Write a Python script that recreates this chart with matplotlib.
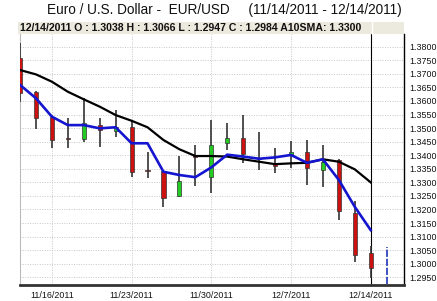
import matplotlib
matplotlib.use("Agg")
import matplotlib.pyplot as plt
from matplotlib.patches import Rectangle
import numpy as np

dates = ["11/14", "11/15", "11/16", "11/17", "11/18", "11/21", "11/22", "11/23", "11/24", "11/25",
         "11/28", "11/29", "11/30", "12/1", "12/2", "12/5", "12/6", "12/7", "12/8", "12/9",
         "12/12", "12/13", "12/14"]
opens = [1.3757, 1.3634, 1.3542, 1.3462, 1.3459, 1.3511, 1.3491, 1.3505, 1.3344, 1.3342,
         1.3250, 1.3400, 1.3319, 1.3446, 1.3462, 1.3390, 1.3368, 1.3401, 1.3411, 1.3345,
         1.3382, 1.3188, 1.3038]
highs = [1.3813, 1.3637, 1.3548, 1.3536, 1.3610, 1.3536, 1.3567, 1.3530, 1.3411, 1.3345,
         1.3398, 1.3438, 1.3530, 1.3520, 1.3548, 1.3484, 1.3425, 1.3452, 1.3456, 1.3438,
         1.3385, 1.3232, 1.3066]
lows = [1.3597, 1.3496, 1.3428, 1.3425, 1.3448, 1.3431, 1.3468, 1.3321, 1.3315, 1.3210,
        1.3247, 1.3287, 1.3260, 1.3419, 1.3370, 1.3345, 1.3333, 1.3352, 1.3290, 1.3284,
        1.3161, 1.3008, 1.2947]
closes = [1.3628, 1.3536, 1.3456, 1.3459, 1.3518, 1.3493, 1.3505, 1.3339, 1.3340, 1.3241,
          1.3306, 1.3395, 1.3438, 1.3462, 1.3405, 1.3385, 1.3362, 1.3413, 1.3352, 1.3376,
          1.3194, 1.3032, 1.2984]
sma10 = [1.3714, 1.3698, 1.3671, 1.3634, 1.3606, 1.3579, 1.3548, 1.3527, 1.3503, 1.3456,
         1.3422, 1.3397, 1.3397, 1.3395, 1.3385, 1.3376, 1.3367, 1.3370, 1.3372, 1.3385,
         1.3376, 1.3348, 1.3300]
blue_avg = [1.3659, 1.3610, 1.3542, 1.3511, 1.3511, 1.3499, 1.3503, 1.3444, 1.3444, 1.3339,
            1.3327, 1.3319, 1.3355, 1.3402, 1.3395, 1.3387, 1.3392, 1.3401, 1.3372, 1.3385,
            1.3309, 1.3210, 1.3124]
yticks = [1.2950 + 0.005 * k for k in range(18)]
xtick_idx = [2, 7, 12, 17, 22]
xtick_labels = ["11/16/2011", "11/23/2011", "11/30/2011", "12/7/2011", "12/14/2011"]
title = "Euro / U.S. Dollar -  EUR/USD     (11/14/2011 - 12/14/2011)"
header = "12/14/2011 O : 1.3038 H : 1.3066 L : 1.2947 C : 1.2984 A10SMA: 1.3300"

plt.rcParams['font.family'] = ['Liberation Sans', 'DejaVu Sans']
W, H = 437, 301
fig = plt.figure(figsize=(W / 100, H / 100), dpi=100)
L, R, T, B = 20, 404, 34, 285
ax = fig.add_axes([L / W, 1 - B / H, (R - L) / W, (B - T) / H])

x = np.arange(len(dates))
bw = 0.26
for i in x:
    up = closes[i] >= opens[i]
    col = '#22cc22' if up else '#cc1111'
    ax.vlines(i, lows[i], highs[i], color='#333333', lw=1.2, zorder=3)
    lo, hi = min(opens[i], closes[i]), max(opens[i], closes[i])
    h = max(hi - lo, 0.00015)
    ax.add_patch(Rectangle((i - bw / 2, lo), bw, h, facecolor=col,
                           edgecolor='#333333', lw=0.5, zorder=4))

ax.plot(x, sma10, color='black', lw=1.6, zorder=5)
ax.plot(x, blue_avg, color='#1515d0', lw=1.9, zorder=6)

# current price marker (dashed blue) after last bar
ax.vlines(len(dates), 1.2925, 1.3060, color='#3344bb', lw=1.3, linestyles=(0, (4, 1)), zorder=3)
# cursor line at last bar
ax.axvline(len(dates) - 1, color='black', lw=0.8, zorder=2)

ax.set_xlim(0, 24.09)
ax.set_ylim(1.29216, 1.38468)
ax.set_yticks(yticks)
ax.set_yticklabels([f"{v:.4f}" for v in yticks])
ax.yaxis.tick_right()
ax.set_xticks(xtick_idx)
ax.set_xticklabels(xtick_labels)
ax.tick_params(axis='both', length=0, labelsize=6.4, colors='#111111')
ax.tick_params(axis='y', pad=4)
ax.tick_params(axis='x', pad=4)
ax.grid(True, color='#c8c8c8', linestyle=(0, (1, 1.5)), lw=0.7)
ax.set_axisbelow(True)
ax.spines['top'].set_visible(False)
ax.spines['left'].set_color('#bbbbbb')
ax.spines['left'].set_linewidth(0.8)
ax.spines['right'].set_color('black')
ax.spines['right'].set_linewidth(1.0)
ax.spines['bottom'].set_color('#333333')
ax.spines['bottom'].set_linewidth(2.0)

# header bar
fig.patches.append(Rectangle((18 / W, 1 - 34 / H), (R - 18) / W, 12.5 / H, transform=fig.transFigure,
                             facecolor='#ece9de', edgecolor='none', zorder=0))
fig.add_artist(plt.Line2D([371.5 / W, 371.5 / W], [1 - 34 / H, 1 - 21.5 / H], color='white', lw=1.0,
                          transform=fig.transFigure))
fig.text(20 / W, 1 - 28 / H, header, fontsize=7.55, fontweight='bold', va='center', ha='left', color='#111111')
fig.text(224 / W, 1 - 10 / H, title, fontsize=9.8, va='center', ha='center', color='#111111')

fig.savefig("out.png", dpi=100)
